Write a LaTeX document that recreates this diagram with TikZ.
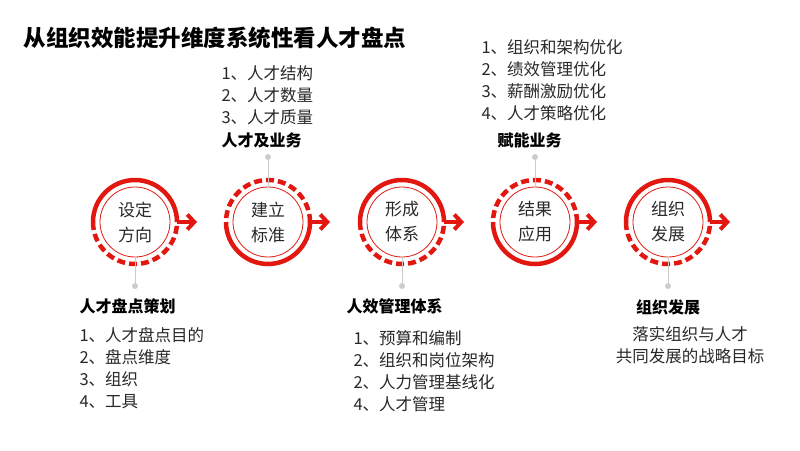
\documentclass[tikz,border=0pt]{standalone}
\usepackage{fontspec}
\setmainfont{Noto Sans CJK SC}
\usetikzlibrary{arrows.meta,positioning}
\definecolor{ringred}{RGB}{226,24,16}
\definecolor{textgray}{RGB}{40,40,40}
\tikzset{
  solidring/.style={draw=ringred, line width=4.5pt},
  dashring/.style={draw=ringred, line width=4.5pt, dash pattern=on 8pt off 4pt},
  innerring/.style={circle, draw=ringred, line width=0.8pt, minimum size=70pt, align=center, font=\fontsize{17}{25}\selectfont, text=textgray},
  stem/.style={draw=black!20, line width=1pt},
  stemdot/.style={circle, fill=black!20, inner sep=0pt, minimum size=6pt},
  head/.style={font=\bfseries\fontsize{16}{19}\selectfont, text=black, anchor=west},
  item/.style={font=\fontsize{16.5}{22}\selectfont, text=textgray, anchor=west, align=left},
  pointer/.style={draw=ringred, line width=4pt, -{Straight Barb[length=7pt,width=15pt]}}
}
\begin{document}
\begin{tikzpicture}[x=1pt, y=-1pt]
  \useasboundingbox (0,0) rectangle (800,450);
  \node[anchor=west, font=\bfseries\fontsize{22.5}{26}\selectfont] (title) at (20,38) {从组织效能提升维度系统性看人才盘点};

  % rings: centre x, label side
  \foreach \cx/\name/\txt/\up in {135/c1/设定\\方向/0, 268/c2/建立\\标准/1, 402/c3/形成\\体系/0, 535/c4/结果\\应用/1, 668/c5/组织\\发展/0} {
    \node[innerring] (\name) at (\cx,222) {\txt};
    \ifnum\up=0
      \draw[solidring] (\cx+42,222) arc[start angle=0, end angle=180, radius=42pt];
      \draw[dashring] (\cx-42,222) arc[start angle=180, end angle=360, radius=42pt];
      \node[stemdot] (\name d) at (\cx,286) {};
      \draw[stem] (\name.south) -- (\name d);
    \else
      \draw[dashring] (\cx+42,222) arc[start angle=0, end angle=180, radius=42pt];
      \draw[solidring] (\cx-42,222) arc[start angle=180, end angle=360, radius=42pt];
      \node[stemdot] (\name d) at (\cx,157) {};
      \draw[stem] (\name.north) -- (\name d);
    \fi
    \coordinate (\name a) at (\cx+42,222);
    \coordinate (\name b) at (\cx+62,222);
    \draw[pointer] (\name a) -- (\name b);
  }

  % upper texts
  \node[item] (l2) at (218,95) {1、人才结构\\2、人才数量\\3、人才质量};
  \node[head] (h2) at (218,140) {人才及业务};
  \node[item] (l4) at (478,80) {1、组织和架构优化\\2、绩效管理优化\\3、薪酬激励优化\\4、人才策略优化};
  \node[head] (h4) at (494,140) {赋能业务};

  % lower texts
  \node[head] (h1) at (76,306) {人才盘点策划};
  \node[item] (l1) at (76,368) {1、人才盘点目的\\2、盘点维度\\3、组织\\4、工具};
  \node[head] (h3) at (343,306) {人效管理体系};
  \node[item] (l3) at (350,371) {1、预算和编制\\2、组织和岗位架构\\2、人力管理基线化\\4、人才管理};
  \node[head, anchor=center] (h5) at (668,307) {组织发展};
  \node[item, anchor=center, align=center, text width=160pt] (l5) at (690,345) {落实组织与人才\\共同发展的战略目标};
\end{tikzpicture}
\end{document}
